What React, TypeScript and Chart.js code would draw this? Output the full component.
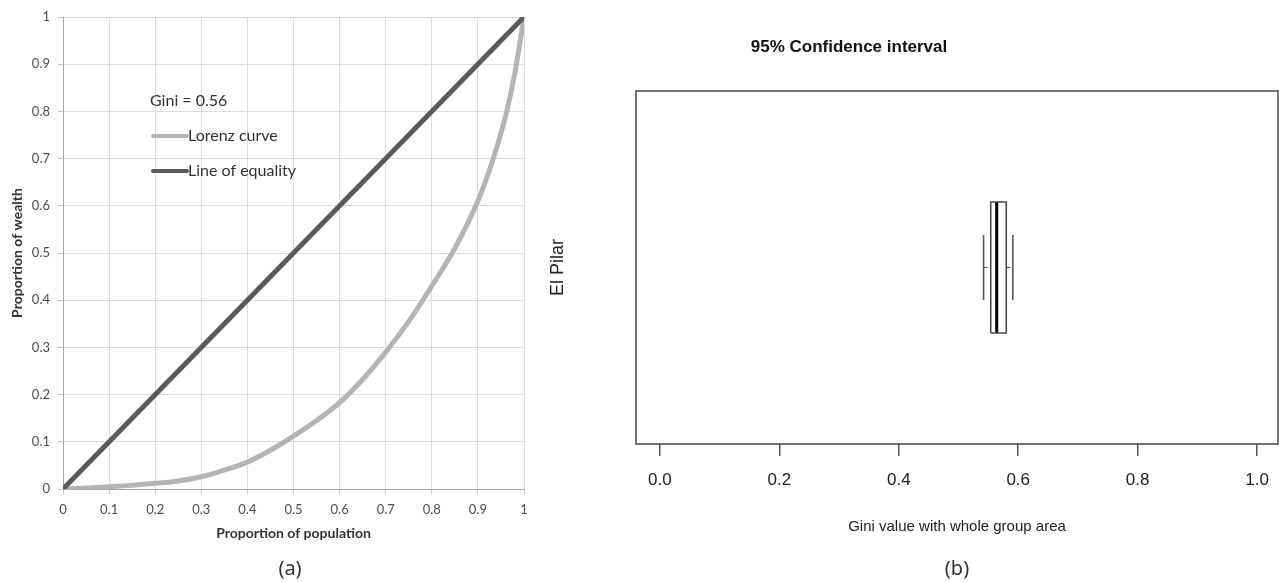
import React, { useEffect, useRef } from "react";
import { Chart, registerables } from "chart.js";

Chart.register(...registerables);

// ---------- Panel (a): Lorenz curve ----------
const POPULATION_SHARE = [0, 0.05, 0.1, 0.15, 0.2, 0.25, 0.3, 0.35, 0.4, 0.45, 0.5, 0.55, 0.6, 0.65, 0.7, 0.75, 0.8, 0.85, 0.9, 0.93, 0.96, 0.98, 1];
const WEALTH_SHARE = [0, 0.002, 0.005, 0.008, 0.012, 0.017, 0.026, 0.04, 0.057, 0.082, 0.112, 0.145, 0.183, 0.232, 0.29, 0.355, 0.43, 0.51, 0.61, 0.69, 0.79, 0.88, 1];
const EQUALITY_X = [0, 1];
const EQUALITY_Y = [0, 1];
const GINI = 0.56;
const A_X_TICKS = [0, 0.1, 0.2, 0.3, 0.4, 0.5, 0.6, 0.7, 0.8, 0.9, 1];
const A_Y_TICKS = [0, 0.1, 0.2, 0.3, 0.4, 0.5, 0.6, 0.7, 0.8, 0.9, 1];
const SERIES_NAMES = ["Lorenz curve", "Line of equality"];

// ---------- Panel (b): 95% confidence interval ----------
const GROUPS = ["El Pilar"];
const CI_LOW = [0.542];
const BOX_LOW = [0.554];
const MEDIAN = [0.564];
const BOX_HIGH = [0.58];
const CI_HIGH = [0.591];
const B_X_TICKS = [0, 0.2, 0.4, 0.6, 0.8, 1.0];

// style constants (in y-axis units of panel b)
const BOX_HALF = 0.371;
const STAPLE_HALF = 0.184;

const lorenzLegend = {
  id: "lorenzLegend",
  afterDatasetsDraw(chart: any, _args: any, opts: any) {
    const ctx = chart.ctx;
    ctx.save();
    ctx.font = `${opts.size}px ${opts.family}`;
    ctx.fillStyle = opts.color;
    ctx.textBaseline = "middle";
    ctx.textAlign = "left";
    ctx.fillText(`Gini = ${GINI.toFixed(2)}`, opts.x, opts.y);
    chart.data.datasets.forEach((ds: any, i: number) => {
      const y = opts.y + opts.firstGap + i * opts.rowGap;
      ctx.strokeStyle = ds.borderColor;
      ctx.lineWidth = opts.swatchWidth;
      ctx.lineCap = "round";
      ctx.beginPath();
      ctx.moveTo(opts.x + 3, y);
      ctx.lineTo(opts.x + 2 + opts.swatch, y);
      ctx.stroke();
      ctx.fillText(ds.label, opts.x + 3 + opts.swatch, y);
    });
    ctx.restore();
  },
};

const frame = {
  id: "frame",
  afterDatasetsDraw(chart: any, _args: any, opts: any) {
    const { left, top, width, height } = chart.chartArea;
    const ctx = chart.ctx;
    ctx.save();
    ctx.strokeStyle = opts.color;
    ctx.lineWidth = opts.width;
    ctx.strokeRect(left, top, width, height);
    ctx.restore();
  },
};

function buildBoxDatasets() {
  const sets: any[] = [];
  GROUPS.forEach((g, i) => {
    const c = i + 1;
    const base = { showLine: true, pointRadius: 0, pointHoverRadius: 0, tension: 0, fill: false };
    sets.push({
      ...base,
      label: g + " box",
      data: [
        { x: BOX_LOW[i], y: c - BOX_HALF },
        { x: BOX_HIGH[i], y: c - BOX_HALF },
        { x: BOX_HIGH[i], y: c + BOX_HALF },
        { x: BOX_LOW[i], y: c + BOX_HALF },
        { x: BOX_LOW[i], y: c - BOX_HALF },
      ],
      borderColor: "#4a4a4a",
      borderWidth: 1.6,
    });
    sets.push({
      ...base,
      label: g + " median",
      data: [
        { x: MEDIAN[i], y: c - BOX_HALF },
        { x: MEDIAN[i], y: c + BOX_HALF },
      ],
      borderColor: "#000",
      borderWidth: 3,
    });
    sets.push({
      ...base,
      label: g + " lower whisker",
      data: [
        { x: CI_LOW[i], y: c },
        { x: BOX_LOW[i], y: c },
      ],
      borderColor: "#555",
      borderWidth: 1.2,
      borderDash: [4, 3],
    });
    sets.push({
      ...base,
      label: g + " upper whisker",
      data: [
        { x: BOX_HIGH[i], y: c },
        { x: CI_HIGH[i], y: c },
      ],
      borderColor: "#555",
      borderWidth: 1.2,
      borderDash: [4, 3],
    });
    sets.push({
      ...base,
      label: g + " lower staple",
      data: [
        { x: CI_LOW[i], y: c - STAPLE_HALF },
        { x: CI_LOW[i], y: c + STAPLE_HALF },
      ],
      borderColor: "#555",
      borderWidth: 1.6,
    });
    sets.push({
      ...base,
      label: g + " upper staple",
      data: [
        { x: CI_HIGH[i], y: c - STAPLE_HALF },
        { x: CI_HIGH[i], y: c + STAPLE_HALF },
      ],
      borderColor: "#555",
      borderWidth: 1.6,
    });
  });
  return sets;
}

const captionStyle = (x: number, y: number): React.CSSProperties => ({
  position: "absolute",
  left: x,
  top: y,
  transform: "translate(-50%, -50%)",
  font: "20px 'Noto Sans', sans-serif",
  color: "#333",
  whiteSpace: "nowrap",
});

export default function App() {
  const refA = useRef<HTMLCanvasElement>(null);
  const refB = useRef<HTMLCanvasElement>(null);

  useEffect(() => {
    const chartA = new Chart(refA.current as HTMLCanvasElement, {
      type: "scatter",
      data: {
        datasets: [
          {
            label: SERIES_NAMES[0],
            data: POPULATION_SHARE.map((x, i) => ({ x, y: WEALTH_SHARE[i] })),
            showLine: true,
            borderColor: "#b4b4b4",
            backgroundColor: "#b4b4b4",
            borderWidth: 5,
            pointRadius: 0,
            pointHoverRadius: 0,
            cubicInterpolationMode: "monotone",
            order: 1,
          } as any,
          {
            label: SERIES_NAMES[1],
            data: EQUALITY_X.map((x, i) => ({ x, y: EQUALITY_Y[i] })),
            showLine: true,
            borderColor: "#5a5a5a",
            backgroundColor: "#5a5a5a",
            borderWidth: 5,
            pointRadius: 0,
            pointHoverRadius: 0,
            order: 0,
          } as any,
        ],
      },
      options: {
        animation: false,
        responsive: false,
        layout: { padding: { left: 0, top: 17, right: 36, bottom: 0 } },
        plugins: {
          legend: { display: false },
          tooltip: { enabled: false },
          lorenzLegend: { x: 150, y: 101, firstGap: 35, rowGap: 35, swatch: 35, swatchWidth: 4, size: 16, family: "Lato", color: "#333" },
        } as any,
        scales: {
          x: {
            type: "linear",
            min: 0,
            max: 1,
            afterBuildTicks: (s: any) => {
              s.ticks = A_X_TICKS.map((v) => ({ value: v }));
            },
            afterFit: (s: any) => {
              s.height = 93;
            },
            grid: { color: "#dcdcdc", lineWidth: 1, tickLength: 5, tickColor: "#c4c4c4" },
            border: { color: "#a8a8a8", width: 1 },
            ticks: {
              autoSkip: false,
              maxRotation: 0,
              padding: 8.2,
              color: "#4d4d4d",
              font: { family: "Lato", size: 13 },
              callback: (v: any) => String(v),
            },
            title: {
              display: true,
              text: "Proportion of population",
              color: "#333",
              font: { family: "Lato", size: 14, weight: "bold" },
              padding: { top: 0, bottom: 40.6 },
            },
          },
          y: {
            type: "linear",
            min: 0,
            max: 1,
            afterBuildTicks: (s: any) => {
              s.ticks = A_Y_TICKS.map((v) => ({ value: v }));
            },
            afterFit: (s: any) => {
              s.width = 63;
            },
            grid: { color: "#dcdcdc", lineWidth: 1, tickLength: 5, tickColor: "#c4c4c4" },
            border: { color: "#a8a8a8", width: 1 },
            ticks: {
              autoSkip: false,
              padding: 8,
              color: "#4d4d4d",
              font: { family: "Lato", size: 13 },
              callback: (v: any) => String(v),
            },
            title: {
              display: true,
              text: "Proportion of wealth",
              color: "#333",
              font: { family: "Lato", size: 14, weight: "bold" },
              padding: { top: 8.6, bottom: 0 },
            },
          },
        },
      } as any,
      plugins: [lorenzLegend],
    });

    const chartB = new Chart(refB.current as HTMLCanvasElement, {
      type: "scatter",
      data: { datasets: buildBoxDatasets() },
      options: {
        animation: false,
        responsive: false,
        layout: { padding: { left: 0, top: 0, right: 1, bottom: 0 } },
        plugins: {
          legend: { display: false },
          tooltip: { enabled: false },
          title: {
            display: true,
            text: "95% Confidence interval",
            color: "#111",
            font: { family: "Liberation Sans", size: 17, weight: "bold" },
            padding: { top: 36.8, bottom: 33.8 },
          },
          frame: { color: "#505050", width: 1.6 },
        } as any,
        scales: {
          x: {
            type: "linear",
            min: -0.04,
            max: 1.035,
            afterBuildTicks: (s: any) => {
              s.ticks = B_X_TICKS.map((v) => ({ value: v }));
            },
            afterFit: (s: any) => {
              s.height = 138;
              s.paddingLeft = 0;
              s.paddingRight = 0;
            },
            grid: { display: true, drawOnChartArea: false, drawTicks: true, tickLength: 12, tickColor: "#555", lineWidth: 1.5 },
            border: { display: false },
            ticks: {
              autoSkip: false,
              maxRotation: 0,
              padding: 13.8,
              color: "#222",
              font: { family: "Liberation Sans", size: 17 },
              callback: (v: any) => Number(v).toFixed(1),
            },
            title: {
              display: true,
              text: "Gini value with whole group area",
              color: "#222",
              font: { family: "Liberation Sans", size: 15 },
              padding: { top: 0, bottom: 46 },
            },
          },
          y: {
            type: "linear",
            min: 0,
            max: GROUPS.length + 1,
            afterFit: (s: any) => {
              s.width = 216;
            },
            grid: { display: false, drawTicks: false },
            border: { display: false },
            ticks: { display: false },
            title: {
              display: true,
              text: GROUPS[0],
              color: "#222",
              font: { family: "Liberation Sans", size: 18 },
              padding: { top: 127.2, bottom: 0 },
            },
          },
        },
      } as any,
      plugins: [frame],
    });

    return () => {
      chartA.destroy();
      chartB.destroy();
    };
  }, []);

  return (
    <div style={{ position: "absolute", left: 0, top: 0, width: 1279, height: 582, background: "#fff", overflow: "hidden" }}>
      <canvas ref={refA} width={560} height={582} style={{ position: "absolute", left: 0, top: 0, width: 560, height: 582 }} />
      <canvas ref={refB} width={859} height={582} style={{ position: "absolute", left: 420, top: 0, width: 859, height: 582 }} />
      <div style={captionStyle(290, 567)}>(a)</div>
      <div style={captionStyle(957, 567)}>(b)</div>
    </div>
  );
}
